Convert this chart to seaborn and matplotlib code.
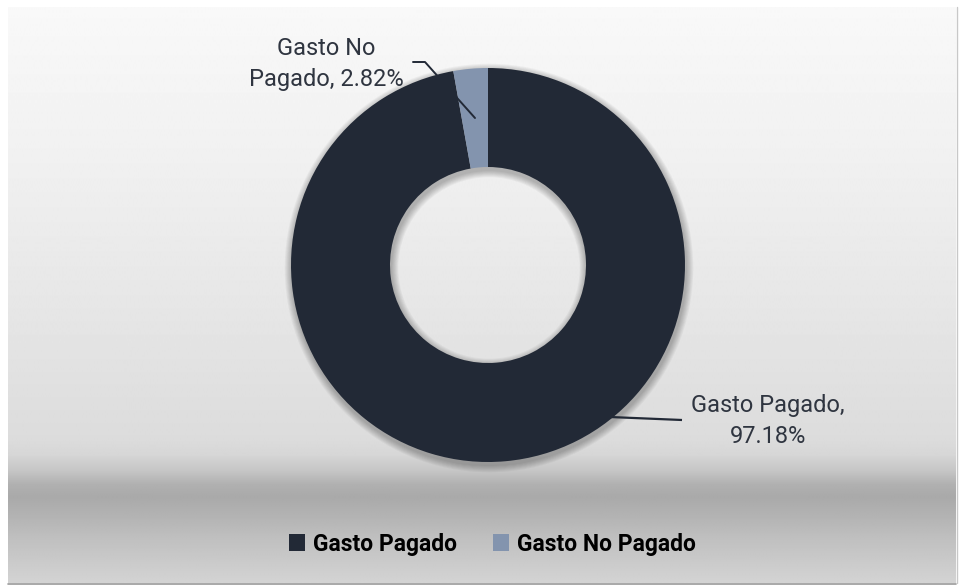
import numpy as np
import matplotlib
matplotlib.use("Agg")
import matplotlib.pyplot as plt
import seaborn as sns
from matplotlib.patches import Wedge, Patch

# Data
categories = ["Gasto Pagado", "Gasto No Pagado"]
shares = [97.18, 2.82]
label_texts = [f"Gasto Pagado,\n{shares[0]:.2f}%", f"Gasto No\nPagado, {shares[1]:.2f}%"]
palette = ["#222936", "#8394ae"]

sns.set_theme(style="white")
plt.rcParams["font.family"] = ["Roboto", "DejaVu Sans"]

W, H = 959, 585
fig = plt.figure(figsize=(W / 100, H / 100), dpi=100)
fig.patch.set_facecolor("white")
ax = fig.add_axes([0, 0, 1, 1])

# Chart area background: vertical gray gradient (pixel rows, gray level)
stops_y = [7, 150, 300, 440, 455, 470, 485, 497, 515, 535, 560, 583]
stops_v = [0.975, 0.945, 0.905, 0.862, 0.84, 0.78, 0.69, 0.665, 0.70, 0.745, 0.79, 0.83]
rows = np.arange(7, 584)
grad = np.interp(rows, stops_y, stops_v)[:, None] * np.ones((1, 4))
ax.imshow(grad, extent=(8, 956, 583, 7), aspect="auto", cmap="gray",
          vmin=0, vmax=1, zorder=0, interpolation="bilinear")
# thin edge shadow at bottom / right
ax.plot([8, 956], [583.5, 583.5], color="#9a9a9a", lw=1.2, zorder=1)
ax.plot([956.5, 956.5], [7, 583], color="#c8c8c8", lw=1.0, zorder=1)

cx, cy, R, ring = 488, 265, 197, 99

# soft shadow under the ring
for i in range(8):
    ax.add_patch(Wedge((cx + 1, cy + 3), R + 1 + i * 0.9, 0, 360, width=ring + 2 + i * 1.8,
                       facecolor="black", alpha=0.035, lw=0, zorder=2))

# Donut (y axis points down, so counter-clockwise in data is clockwise on screen)
ax.pie(shares, colors=palette, startangle=-90, counterclock=True,
       center=(cx, cy), radius=R, frame=True,
       wedgeprops=dict(width=ring, linewidth=0, zorder=3))
for w in ax.patches[-2:]:
    w.set_zorder(3)

txt_color = "#2f3540"
# Leader lines
ax.plot([610, 682], [417, 420], color="#222936", lw=1.6, zorder=4, solid_capstyle="butt")
ax.plot([413, 425, 475], [62, 62, 118], color="#222936", lw=1.4, zorder=4)

ax.text(768, 421, label_texts[0], ha="center", va="center", fontsize=17,
        color=txt_color, linespacing=1.4, zorder=5)
ax.text(326, 64, label_texts[1], ha="center", va="center", fontsize=17,
        color=txt_color, linespacing=1.4, zorder=5)

# Legend
handles = [Patch(facecolor=c, edgecolor="none") for c in palette]
fig.legend(handles, categories, loc="center", bbox_to_anchor=(492.5 / W, 1 - 544 / H),
           ncol=2, frameon=False, handlelength=0.7, handleheight=0.7,
           handletextpad=0.35, columnspacing=1.6,
           prop=dict(family=["Roboto", "DejaVu Sans"], weight="bold", size=16.5),
           labelcolor="black")

ax.set_xlim(0, W)
ax.set_ylim(H, 0)
ax.axis("off")

fig.savefig("out.png", dpi=100, facecolor="white")
